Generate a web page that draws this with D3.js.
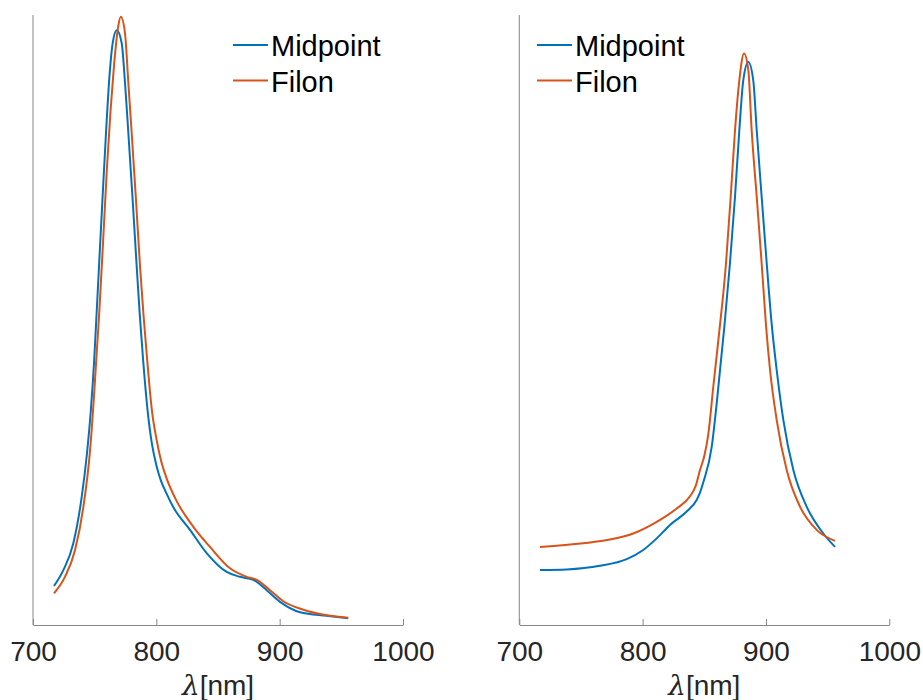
<!DOCTYPE html>
<html>
<head>
<meta charset="utf-8">
<script src="https://cdn.jsdelivr.net/npm/d3@7"></script>
<style>
  html, body { margin: 0; padding: 0; background: #fff; }
  svg { display: block; font-family: "Liberation Sans", Arial, Helvetica, sans-serif; }
</style>
</head>
<body>
<svg id="chart" width="923" height="700"></svg>
<script>
// ---------------- data ----------------
const seriesNames = ["Midpoint", "Filon"];
const xTicks = [700, 800, 900, 1000];
const xLabel = "[nm]";

// Left panel – Midpoint
const leftMidLambda = [717.0, 724.6, 732.7, 739.5, 743.8, 746.9, 749.6, 751.3, 753.5, 756.3, 759.2, 762.2, 764.6, 767.9, 771.9, 774.6, 777.3, 780.8, 784.1, 786.6, 789.3, 792.9, 796.5, 800.0, 803.5, 808.4, 813.8, 827.3, 840.8, 857.1, 867.8, 878.6, 889.5, 900.3, 916.5, 938.1, 955.6];
const leftMidValue  = [0.064, 0.090, 0.134, 0.210, 0.282, 0.352, 0.434, 0.500, 0.587, 0.697, 0.807, 0.905, 0.954, 0.975, 0.954, 0.889, 0.807, 0.697, 0.587, 0.508, 0.434, 0.352, 0.296, 0.262, 0.238, 0.215, 0.193, 0.156, 0.118, 0.087, 0.079, 0.074, 0.057, 0.038, 0.021, 0.015, 0.011];

// Left panel – Filon
const leftFilLambda = [717.0, 725.9, 734.1, 740.8, 746.3, 749.6, 751.8, 753.6, 757.2, 760.0, 762.9, 765.6, 769.0, 771.2, 774.6, 777.3, 780.0, 783.5, 786.8, 789.6, 792.6, 796.4, 800.0, 804.0, 808.4, 816.5, 830.0, 843.5, 859.7, 873.3, 881.4, 892.2, 902.9, 919.2, 938.1, 955.6];
const leftFilValue  = [0.052, 0.079, 0.123, 0.193, 0.287, 0.380, 0.451, 0.508, 0.643, 0.751, 0.844, 0.915, 0.980, 0.997, 0.970, 0.889, 0.807, 0.697, 0.587, 0.508, 0.434, 0.352, 0.306, 0.268, 0.240, 0.203, 0.161, 0.128, 0.093, 0.079, 0.074, 0.057, 0.039, 0.025, 0.016, 0.012];

// Right panel – Midpoint
const rightMidLambda = [716.8, 738.4, 765.4, 787.1, 800.5, 811.4, 822.2, 835.7, 843.8, 846.5, 849.2, 856.0, 860.1, 866.4, 870.8, 874.9, 878.4, 881.6, 885.7, 889.7, 892.5, 896.5, 900.6, 904.7, 908.7, 914.1, 922.2, 933.0, 946.5, 956.0];
const rightMidValue  = [0.090, 0.091, 0.097, 0.108, 0.123, 0.142, 0.164, 0.186, 0.205, 0.217, 0.234, 0.292, 0.364, 0.492, 0.593, 0.702, 0.811, 0.893, 0.923, 0.893, 0.811, 0.702, 0.593, 0.492, 0.418, 0.336, 0.254, 0.194, 0.150, 0.128];

// Right panel – Filon
const rightFilLambda = [716.8, 751.9, 773.5, 792.4, 811.4, 827.6, 838.4, 843.0, 846.5, 850.0, 853.2, 857.3, 861.4, 867.6, 871.4, 874.9, 878.4, 882.2, 885.7, 888.4, 892.5, 896.5, 900.0, 903.3, 908.7, 916.8, 927.6, 941.1, 956.0];
const rightFilValue  = [0.128, 0.134, 0.140, 0.150, 0.169, 0.191, 0.211, 0.228, 0.254, 0.277, 0.312, 0.391, 0.467, 0.593, 0.702, 0.811, 0.893, 0.937, 0.910, 0.811, 0.702, 0.593, 0.492, 0.418, 0.336, 0.254, 0.194, 0.156, 0.138];

// ---------------- drawing ----------------
const colors = ["#0072BD", "#D95319"];
const svg = d3.select("#chart");

const panels = [
  { x0: 33, x1: 403, legendX: 233,
    series: [[leftMidLambda, leftMidValue], [leftFilLambda, leftFilValue]] },
  { x0: 519.3, x1: 889.3, legendX: 537,
    series: [[rightMidLambda, rightMidValue], [rightFilLambda, rightFilValue]] }
];

const yTop = 15, yBottom = 625;

panels.forEach(p => {
  const x = d3.scaleLinear().domain([700, 1000]).range([p.x0, p.x1]);
  const y = d3.scaleLinear().domain([0, 1]).range([yBottom, yTop]);
  const g = svg.append("g");

  // y axis line (no ticks)
  g.append("line")
    .attr("x1", x(700)).attr("x2", x(700))
    .attr("y1", yTop).attr("y2", yBottom)
    .attr("stroke", "#868686").attr("stroke-width", 1);

  // x axis
  const ax = g.append("g")
    .attr("transform", `translate(0,${yBottom})`)
    .call(d3.axisBottom(x).tickValues(xTicks).tickFormat(d3.format("d"))
      .tickSizeInner(-6).tickSizeOuter(0).tickPadding(16));
  ax.select(".domain").attr("stroke", "#868686");
  ax.selectAll(".tick line").attr("stroke", "#868686");
  ax.selectAll(".tick text")
    .attr("fill", "#262626")
    .style("font-size", "28px")
    .style("font-family", "'Liberation Sans', Arial, sans-serif");

  // x label
  const lbl = g.append("text")
    .attr("x", (p.x0 + p.x1) / 2)
    .attr("y", 695)
    .attr("text-anchor", "middle")
    .attr("fill", "#262626")
    .style("font-size", "28px");
  lbl.append("tspan").text("λ").style("font-style", "italic")
    .style("font-family", "'DejaVu Serif', 'Liberation Serif', serif");
  lbl.append("tspan").text(xLabel);

  // lines
  const line = d3.line()
    .x(d => x(d[0])).y(d => y(d[1]))
    .curve(d3.curveMonotoneX);
  p.series.forEach((s, i) => {
    const pts = s[0].map((l, k) => [l, s[1][k]]);
    g.append("path")
      .datum(pts)
      .attr("d", line)
      .attr("fill", "none")
      .attr("stroke", colors[i])
      .attr("stroke-width", 2)
      .attr("stroke-linejoin", "round");
  });

  // legend
  seriesNames.forEach((name, i) => {
    const ly = 45 + i * 35.5;
    g.append("line")
      .attr("x1", p.legendX).attr("x2", p.legendX + 35)
      .attr("y1", ly).attr("y2", ly)
      .attr("stroke", colors[i]).attr("stroke-width", 2);
    g.append("text")
      .attr("x", p.legendX + 38)
      .attr("y", ly + 11)
      .attr("fill", "#000")
      .style("font-size", "29px")
      .text(name);
  });
});
</script>
</body>
</html>
